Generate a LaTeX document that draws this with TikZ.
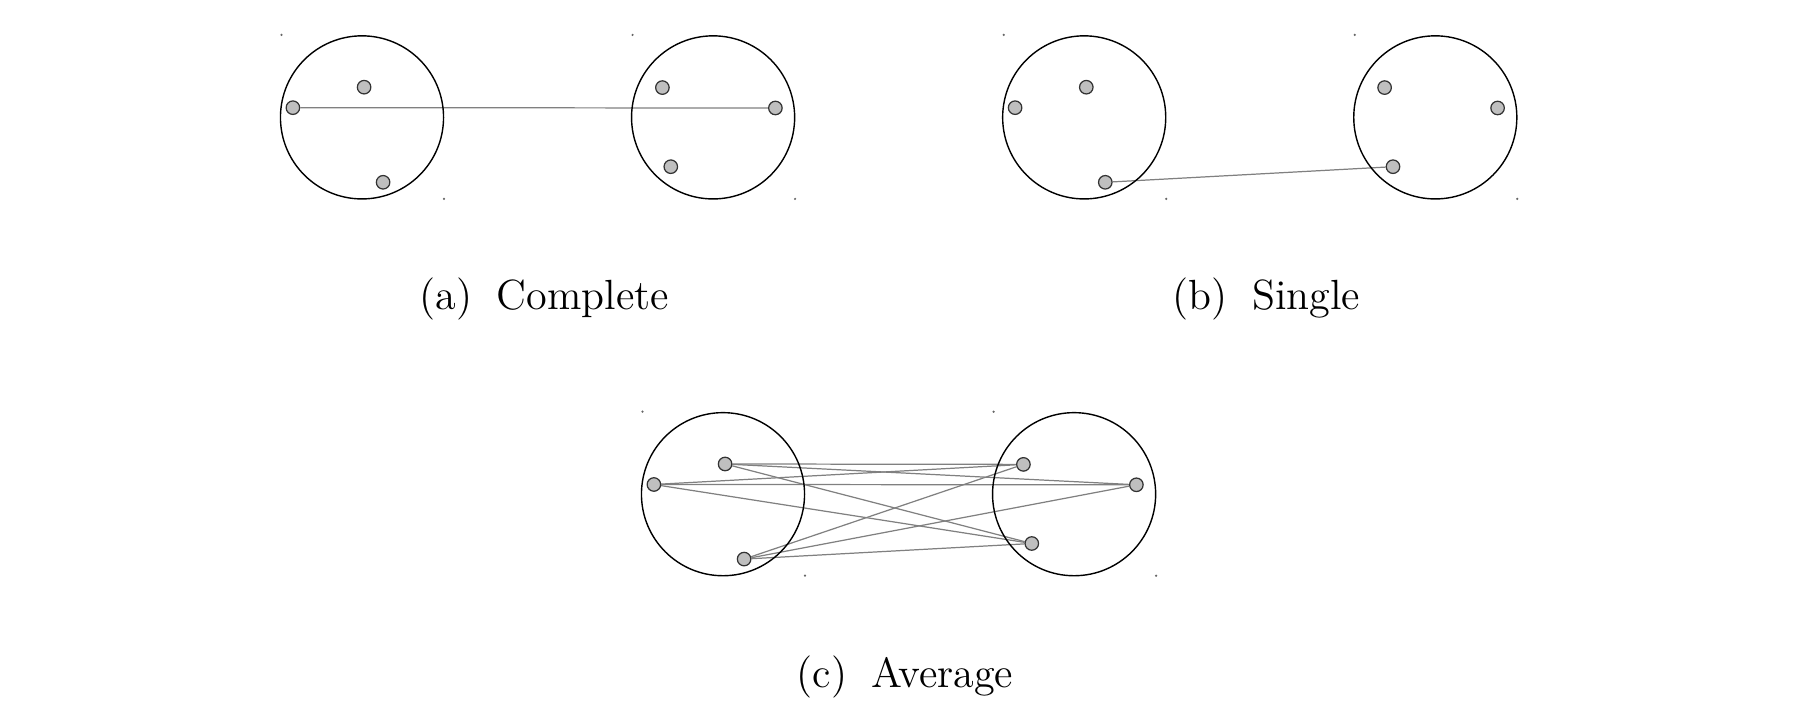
\documentclass[tikz,border=0pt]{standalone}
\usetikzlibrary{positioning}
\pgfdeclarelayer{background}
\pgfsetlayers{background,main}

\tikzset{
  cluster/.style={draw, circle, minimum size=1.63cm, inner sep=0pt, line width=0.4pt},
  point/.style={draw=black!80, circle, fill=black!25, minimum size=0.135cm, inner sep=0pt, line width=0.35pt},
  link/.style={black!50, line width=0.35pt},
  speck/.style={black!60},
  caption/.style={anchor=base, font=\fontsize{12}{14.4}\selectfont}
}

% two clusters, left one at the origin of the scope
\newcommand\clusterpair{%
  \node[cluster] (left) at (0,0) {};
  \node[cluster] (right) at (351.1,0) {};
  \fill[speck] (-80.5,-82.5) circle (0.35pt);
  \fill[speck] (82,81.5) circle (0.35pt);
  \fill[speck] (270.6,-82.5) circle (0.35pt);
  \fill[speck] (433.1,81.5) circle (0.35pt);
  \node[point] (l1) at (-69.1,-9.7) {};
  \node[point] (l2) at (2.1,-30.2) {};
  \node[point] (l3) at (21.1,64.9) {};
  \node[point] (r1) at (300.4,-29.8) {};
  \node[point] (r2) at (413.4,-9.4) {};
  \node[point] (r3) at (308.8,49.3) {};
}

\begin{document}
\begin{tikzpicture}[x=0.01cm, y=-0.01cm]
  \useasboundingbox (0,0) rectangle (1796,728);

  % (a) complete linkage
  \begin{scope}[shift={(362,117.4)}, name prefix=a-]
    \clusterpair
    \begin{pgfonlayer}{background}
      \draw[link] (l1) -- (r2);
    \end{pgfonlayer}
  \end{scope}
  \node[caption] (capa) at (544.2,309.5) {(a)\hspace{7pt}Complete};

  % (b) single linkage
  \begin{scope}[shift={(1084.2,117.4)}, name prefix=b-]
    \clusterpair
    \begin{pgfonlayer}{background}
      \draw[link] (l3) -- (r3);
    \end{pgfonlayer}
  \end{scope}
  \node[caption] (capb) at (1266.3,309.5) {(b)\hspace{7pt}Single};

  % (c) average linkage
  \begin{scope}[shift={(723,494.2)}, name prefix=c-]
    \clusterpair
    \begin{pgfonlayer}{background}
      \foreach \i in {1,2,3}
        \foreach \j in {1,2,3}
          \draw[link] (l\i) -- (r\j);
    \end{pgfonlayer}
  \end{scope}
  \node[caption] (capc) at (905,688) {(c)\hspace{7pt}Average};
\end{tikzpicture}
\end{document}
